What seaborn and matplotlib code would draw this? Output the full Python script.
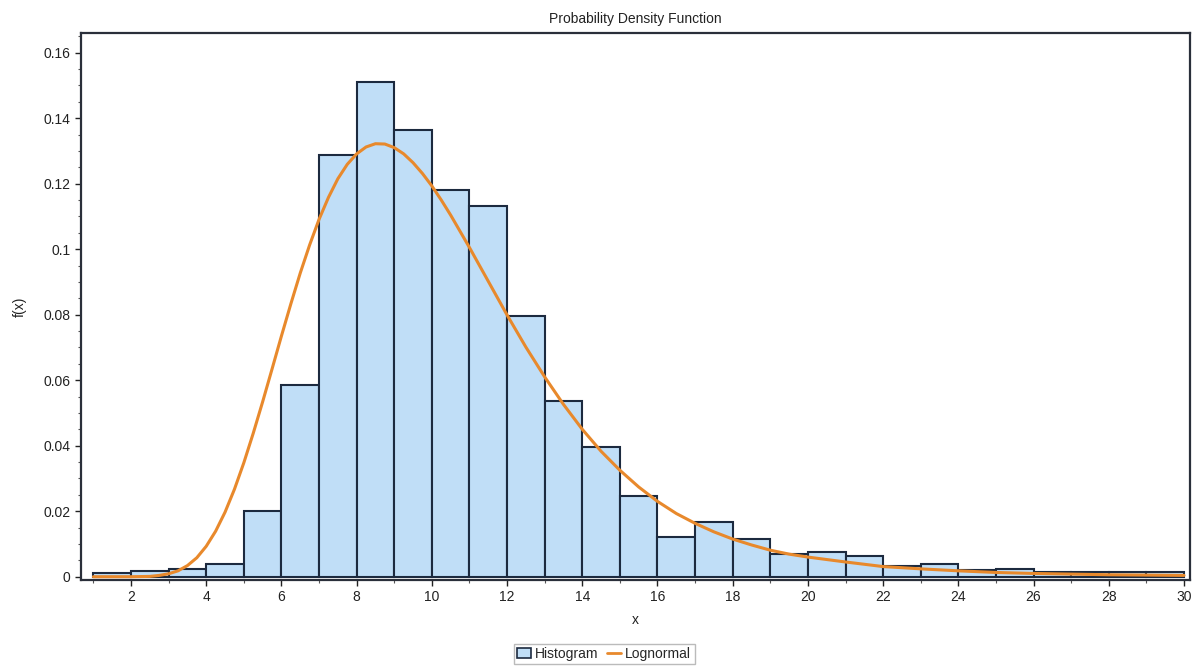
import numpy as np
import pandas as pd
import matplotlib
matplotlib.use("Agg")
import matplotlib.pyplot as plt
from matplotlib.patches import Patch
from matplotlib.lines import Line2D
from matplotlib.ticker import MultipleLocator, FuncFormatter
import seaborn as sns

# ---- data ----
bin_edges = list(range(1, 31))  # 1..30
bar_heights = [0.0011, 0.0019, 0.0023, 0.0040, 0.0201, 0.0586, 0.1289, 0.1511,
               0.1365, 0.1182, 0.1133, 0.0797, 0.0537, 0.0397, 0.0247, 0.0121,
               0.0167, 0.0115, 0.0070, 0.0077, 0.0062, 0.0034, 0.0039, 0.0021,
               0.0025, 0.0015, 0.0015, 0.0015, 0.0015]

curve_x = [1.0, 1.5, 2.0, 2.5, 2.75, 3.0, 3.25, 3.5, 3.75, 4.0, 4.25, 4.5, 4.75,
           5.0, 5.25, 5.5, 5.75, 6.0, 6.25, 6.5, 6.75, 7.0, 7.25, 7.5, 7.75,
           8.0, 8.25, 8.5, 8.75, 9.0, 9.25, 9.5, 9.75, 10.0, 10.25, 10.5, 11.0,
           11.5, 12.0, 12.5, 13.0, 13.5, 14.0, 14.5, 15.0, 15.5, 16.0, 16.5,
           17.0, 17.5, 18.0, 18.5, 19.0, 19.5, 20.0, 21.0, 22.0, 23.0, 24.0,
           25.0, 26.0, 27.0, 28.0, 29.0, 30.0]
curve_y = [0.0, 0.0, 0.0, 0.0001, 0.0004, 0.0009, 0.0018, 0.0034, 0.0058, 0.0093,
           0.0139, 0.0197, 0.0267, 0.0348, 0.0438, 0.0534, 0.0634, 0.0735, 0.0833,
           0.0927, 0.1013, 0.1091, 0.1158, 0.1215, 0.1259, 0.1291, 0.1312, 0.1322,
           0.1321, 0.1310, 0.1291, 0.1264, 0.1231, 0.1193, 0.1150, 0.1104, 0.1005,
           0.0902, 0.0799, 0.0701, 0.0610, 0.0526, 0.0450, 0.0383, 0.0325, 0.0274,
           0.0230, 0.0193, 0.0163, 0.0137, 0.0115, 0.0097, 0.0081, 0.0069, 0.0060,
           0.0045, 0.0031, 0.0024, 0.0018, 0.0013, 0.0010, 0.0008, 0.0006, 0.0005,
           0.0004]

y_ticks = [0, 0.02, 0.04, 0.06, 0.08, 0.1, 0.12, 0.14, 0.16]
x_ticks = list(range(2, 31, 2))

title = "Probability Density Function"
x_label = "x"
y_label = "f(x)"
legend_labels = ["Histogram", "Lognormal"]

# ---- styling ----
sns.set_style("white")
plt.rcParams['font.family'] = ['Liberation Sans', 'DejaVu Sans']

bar_face = "#c0def7"
bar_edge = "#1c2a3f"
curve_color = "#e8892c"

fig = plt.figure(figsize=(12.01, 6.66), dpi=100)
ax = fig.add_axes([81/1201, 1-580/666, (1190-81)/1201, (580-33)/666])

centers = [e + 0.5 for e in bin_edges[:-1]]
df_bars = pd.DataFrame({"x": centers, "h": bar_heights})
sns.histplot(data=df_bars, x="x", weights="h", bins=bin_edges, stat="count",
             color=bar_face, edgecolor=bar_edge, linewidth=1.5, alpha=1.0, ax=ax)

df_curve = pd.DataFrame({"x": curve_x, "y": curve_y})
sns.lineplot(data=df_curve, x="x", y="y", color=curve_color, linewidth=2.2, ax=ax)

ax.set_xlim(0.67, 30.16)
ax.set_ylim(-0.001, 0.166)
ax.set_xticks(x_ticks)
ax.set_yticks(y_ticks)
ax.xaxis.set_minor_locator(MultipleLocator(1))
ax.yaxis.set_minor_locator(MultipleLocator(0.005))
ax.yaxis.set_major_formatter(FuncFormatter(lambda v, p: "0" if abs(v) < 1e-12 else ("%g" % v)))
ax.tick_params(axis="both", which="major", direction="out", length=4, width=1,
               labelsize=10, colors="#222222", bottom=True, left=True)
ax.tick_params(axis="both", which="minor", direction="out", length=2, width=0.8,
               colors="#555555", bottom=True, left=True)
for s in ax.spines.values():
    s.set_visible(True)
    s.set_color("#2a2f3a")
    s.set_linewidth(1.6)

ax.set_xlabel(x_label, fontsize=10, color="#222222", labelpad=6)
ax.set_ylabel(y_label, fontsize=10, color="#222222", labelpad=12)
ax.set_title(title, fontsize=10, color="#222222", pad=7)

handles = [Patch(facecolor=bar_face, edgecolor=bar_edge, linewidth=1.2),
           Line2D([0], [0], color=curve_color, linewidth=2)]
fig.legend(handles, legend_labels, loc="center", bbox_to_anchor=(0.503, 0.018),
           ncol=2, fontsize=10, frameon=True, fancybox=False, edgecolor="#aaaaaa",
           handlelength=1.0, handletextpad=0.3, columnspacing=0.6, borderpad=0.25)

fig.savefig("out.png", dpi=100, facecolor="white")
